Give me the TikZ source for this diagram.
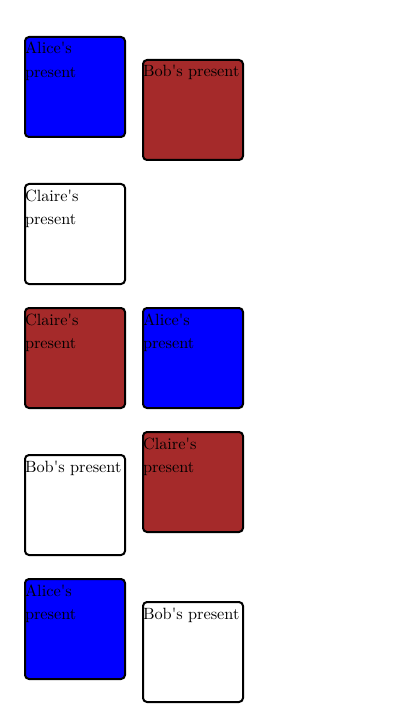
\documentclass[tikz,border=0pt]{standalone}
\usepackage{fontspec}
\setmainfont{lmroman10-regular}[Extension=.otf]
\definecolor{presblue}{RGB}{0,0,255}
\definecolor{presbrown}{RGB}{165,42,42}
\tikzset{
  present/.style={draw=black, line width=2pt, rounded corners=4pt, inner sep=0pt, anchor=north west, outer sep=0pt},
  bluebox/.style={present, fill=presblue},
  brownbox/.style={present, fill=presbrown},
  whitebox/.style={present, fill=white},
}
\newcommand{\ptext}[1]{\parbox[t][100pt][t]{100pt}{\fontsize{16.3pt}{23.5pt}\selectfont\raggedright\rule{0pt}{17pt}#1}}
\begin{document}
\begin{tikzpicture}[x=1pt,y=-1pt]
\useasboundingbox (0,0) rectangle (400,719);
\node[bluebox]  (alice1)  at (25,37)  {\ptext{Alice\textquotesingle s present}};
\node[brownbox] (bob1)    at (143,60) {\ptext{Bob\textquotesingle s present}};
\node[whitebox] (claire2) at (25,184) {\ptext{Claire\textquotesingle s present}};
\node[brownbox] (claire3) at (25,308) {\ptext{Claire\textquotesingle s present}};
\node[bluebox]  (alice3)  at (143,308) {\ptext{Alice\textquotesingle s present}};
\node[whitebox] (bob4)    at (25,455) {\ptext{Bob\textquotesingle s present}};
\node[brownbox] (claire4) at (143,432) {\ptext{Claire\textquotesingle s present}};
\node[bluebox]  (alice5)  at (25,579) {\ptext{Alice\textquotesingle s present}};
\node[whitebox] (bob5)    at (143,602) {\ptext{Bob\textquotesingle s present}};
\end{tikzpicture}
\end{document}
